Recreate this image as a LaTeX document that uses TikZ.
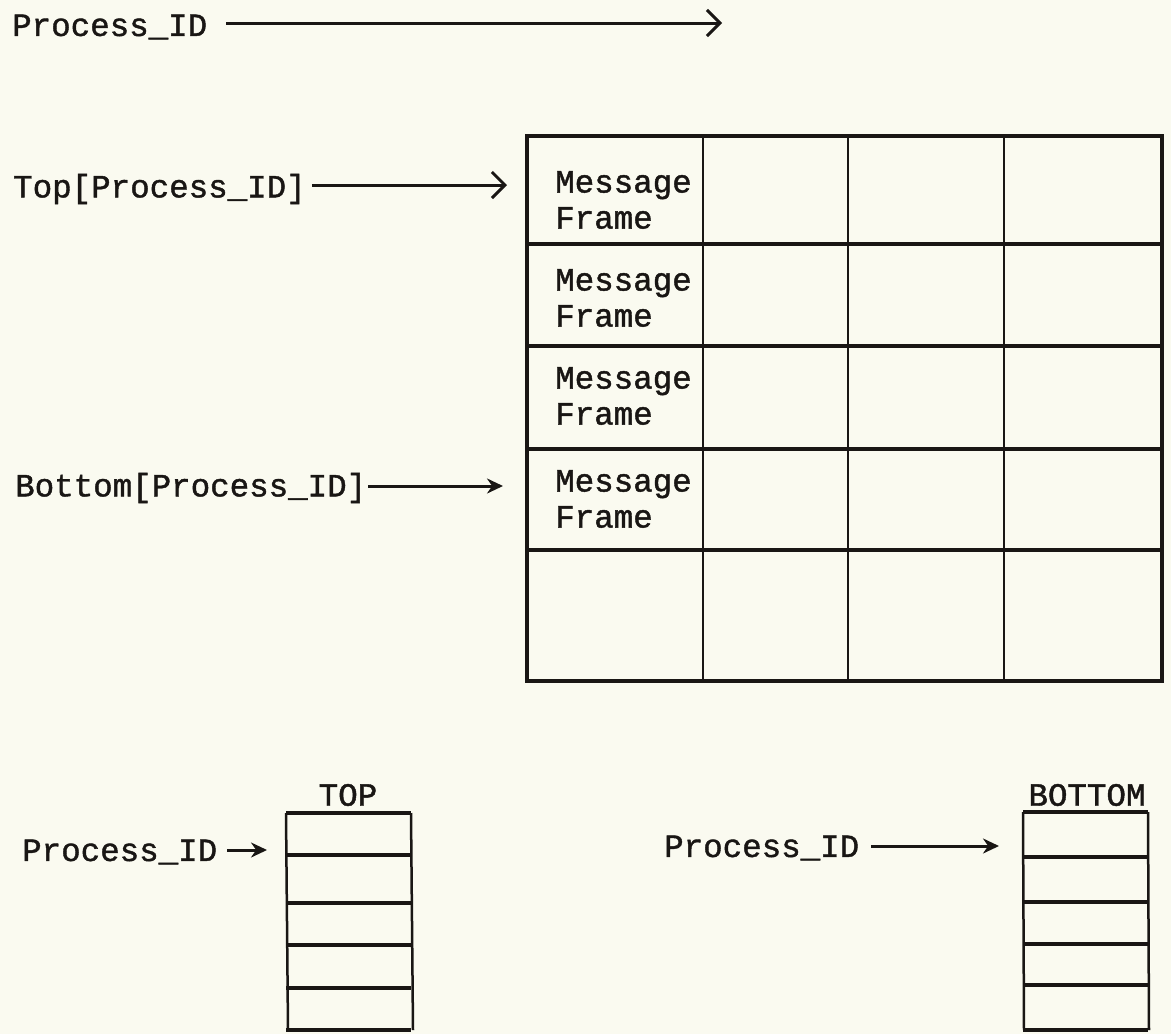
\documentclass[tikz,border=0pt]{standalone}
\usepackage{fontspec}
\setmonofont[FakeBold=1.3]{Liberation Mono}
\usetikzlibrary{arrows.meta}
\definecolor{paper}{RGB}{250,250,240}
\definecolor{ink}{RGB}{25,22,20}
\begin{document}
\begin{tikzpicture}[x=1pt,y=-1pt,
  lbl/.style={font=\ttfamily\fontsize{32.5}{36}\selectfont, text=ink, inner sep=0pt, anchor=west},
  mf/.style={lbl, align=left},
  stacklbl/.style={font=\ttfamily\fontsize{32.5}{36}\selectfont, text=ink, inner sep=0pt},
  hl/.style={draw=ink, line width=3.5pt},
  vl/.style={draw=ink, line width=2.5pt},
  openarr/.style={draw=ink, line width=3pt, -{Straight Barb[length=13pt,width=26pt,line width=3pt]}},
  fillarr/.style={draw=ink, line width=3pt, -{Stealth[length=16pt,width=15pt]}},
]
\fill[paper] (0,0) rectangle (1171,1034);
\useasboundingbox (0,0) rectangle (1171,1034);

% main grid
\foreach \y in {136,244,346,449,550,681} \draw[hl] (527,\y) -- (1162,\y);
\foreach \x in {527,703,848,1004,1162} \draw[vl] (\x,136) -- (\x,681);
\draw[hl] (527,136) rectangle (1162,681);

\node[mf] (m1) at (555,200) {Message\\Frame};
\node[mf] (m2) at (555,298) {Message\\Frame};
\node[mf] (m3) at (555,396) {Message\\Frame};
\node[mf] (m4) at (555,499) {Message\\Frame};

% top labels and arrows
\node[lbl] (p1) at (12,27) {Process\_ID};
\coordinate (a1) at (722,23);
\draw[openarr] ([xshift=19pt]p1.east |- a1) -- (a1);

\node[lbl] (p2) at (13,189) {Top[Process\_ID]};
\coordinate (a2) at (507,185);
\draw[openarr] ([xshift=6pt]p2.east |- a2) -- (a2);

\node[lbl] (p3) at (15,488) {Bottom[Process\_ID]};
\coordinate (a3) at (503,486);
\draw[fillarr] ([xshift=2pt]p3.east |- a3) -- (a3);

% TOP stack
\node[stacklbl] (toplbl) at (348,795) {TOP};
\foreach \y in {813,855,903,945,988,1030} \draw[hl] (286,\y) -- (411,\y);
\draw[vl] (286,813) -- (288,1030);
\draw[vl] (411,813) -- (413,1030);
\node[lbl] (p4) at (22,852) {Process\_ID};
\coordinate (a4) at (267,850);
\draw[fillarr] ([xshift=10pt]p4.east |- a4) -- (a4);

% BOTTOM stack
\node[stacklbl] (botlbl) at (1087,795) {BOTTOM};
\foreach \y in {812,857,902,944,985,1030} \draw[hl] (1023,\y) -- (1148,\y);
\draw[vl] (1023,812) -- (1024,1030);
\draw[vl] (1148,812) -- (1149,1030);
\node[lbl] (p5) at (664,848) {Process\_ID};
\coordinate (a5) at (999,846);
\draw[fillarr] ([xshift=12pt]p5.east |- a5) -- (a5);
\end{tikzpicture}
\end{document}
